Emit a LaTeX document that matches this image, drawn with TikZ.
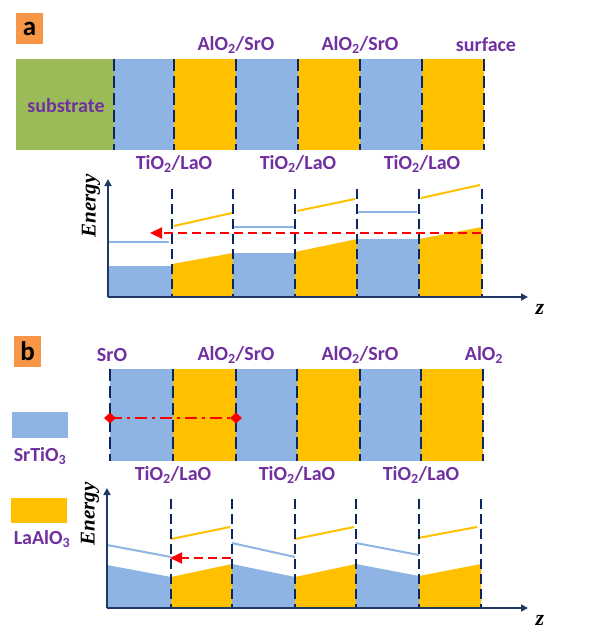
\documentclass[tikz,border=0pt]{standalone}
\usepackage{fontspec}
\setmainfont{Carlito}
\newfontfamily\tnr{Liberation Serif}
\usetikzlibrary{arrows.meta,shapes.geometric}
\definecolor{stoblue}{HTML}{8EB4E3}
\definecolor{laoyel}{HTML}{FFC000}
\definecolor{subgreen}{HTML}{9BBB59}
\definecolor{labor}{HTML}{F79646}
\definecolor{purp}{HTML}{7030A0}
\definecolor{navy}{HTML}{0B2660}
\definecolor{axnavy}{HTML}{1F3864}
\definecolor{cbblue}{HTML}{8EB4E3}
\tikzset{
  lbl/.style={font=\fontsize{20}{22}\selectfont\bfseries, text=purp, inner sep=0pt},
  panellbl/.style={fill=labor, minimum width=27pt, minimum height=31pt, inner sep=0pt,
    font=\fontsize{27}{28}\selectfont\bfseries, text=black},
  ifc/.style={draw=navy, line width=2.4pt, dash pattern=on 12pt off 5pt},
  eifc/.style={draw=navy, line width=2.4pt, dash pattern=on 10pt off 5pt},
  axis/.style={draw=axnavy, line width=2pt, -{Triangle[length=7pt,width=7pt]}},
  bline/.style={draw=cbblue, line width=2pt},
  yline/.style={draw=laoyel, line width=2pt},
  redarr/.style={draw=red, line width=2pt, dash pattern=on 9pt off 5pt, -{Triangle[length=12pt,width=11pt]}},
  reddd/.style={draw=red, line width=2pt, dash pattern=on 12pt off 5pt on 3pt off 5pt},
  rdiam/.style={diamond, fill=red, inner sep=0pt, minimum width=12pt, minimum height=11pt},
  elbl/.style={font=\tnr\fontsize{21}{22}\selectfont\bfseries\itshape, inner sep=0pt, rotate=90},
  zlbl/.style={font=\tnr\fontsize{22}{22}\selectfont\bfseries\itshape, inner sep=0pt},
}
\begin{document}
\begin{tikzpicture}[x=1pt,y=-1pt]
\useasboundingbox (0,0) rectangle (599,634);
% ===================== panel a =====================
\node[panellbl] (la) at (29.5,28.5) {a};
% layer bar
\fill[subgreen] (16,59) rectangle (114,150);
\fill[stoblue] (114,59) rectangle (174,150);
\fill[laoyel] (174,59) rectangle (236,150);
\fill[stoblue] (236,59) rectangle (298,150);
\fill[laoyel] (298,59) rectangle (360,150);
\fill[stoblue] (360,59) rectangle (422,150);
\fill[laoyel] (422,59) rectangle (484,150);
\foreach \x in {114,174,236,298,360,422,484} \draw[ifc] (\x,59) -- (\x,150);
\node[lbl] (sub) at (66,106) {substrate};
\node[lbl] (a1) at (236,45) {AlO\textsubscript{2}/SrO};
\node[lbl] (a2) at (360,45) {AlO\textsubscript{2}/SrO};
\node[lbl] (a3) at (486,45) {surface};
\node[lbl] (at1) at (174,164) {TiO\textsubscript{2}/LaO};
\node[lbl] (at2) at (298,164) {TiO\textsubscript{2}/LaO};
\node[lbl] (at3) at (422,164) {TiO\textsubscript{2}/LaO};
% energy diagram a
\fill[stoblue] (108,297) -- (108,266) -- (172,266) -- (172,297) -- cycle;
\fill[laoyel] (172,297) -- (172,264) -- (233,253) -- (233,297) -- cycle;
\fill[stoblue] (233,297) -- (233,253) -- (295,253) -- (295,297) -- cycle;
\fill[laoyel] (295,297) -- (295,252) -- (357,239) -- (357,297) -- cycle;
\fill[stoblue] (357,297) -- (357,239) -- (419,239) -- (419,297) -- cycle;
\fill[laoyel] (419,297) -- (419,239) -- (482,227) -- (482,297) -- cycle;
\draw[bline] (108,242) -- (169,242);
\draw[bline] (233,227) -- (294,227);
\draw[bline] (357,212) -- (417,212);
\draw[yline] (174,226) -- (232,213);
\draw[yline] (297,211) -- (355,199);
\draw[yline] (421,198) -- (480,185);
\foreach \x in {172,233,295,357,419,482} \draw[eifc] (\x,189) -- (\x,297);
\coordinate (ea0) at (108,297);
\coordinate (eay) at (108,179);
\coordinate (eax) at (528,297);
\draw[axis] (ea0) -- (eay);
\draw[axis] (ea0) -- (eax);
\coordinate (ra1) at (481,233);
\coordinate (ra2) at (150,233);
\draw[redarr] (ra1) -- (ra2);
\node[elbl] (ena) at (91,206) {Energy};
\node[zlbl] (za) at (540,309) {z};
% ===================== panel b =====================
\node[panellbl] (lb) at (27.5,351.5) {b};
\fill[stoblue] (110,369) rectangle (173,461);
\fill[laoyel] (173,369) rectangle (236,461);
\fill[stoblue] (236,369) rectangle (297,461);
\fill[laoyel] (297,369) rectangle (360,461);
\fill[stoblue] (360,369) rectangle (421,461);
\fill[laoyel] (421,369) rectangle (483,461);
\foreach \x in {110,173,236,297,360,421,483} \draw[ifc] (\x,369) -- (\x,461);
\node[lbl] (b0) at (112,355) {SrO};
\node[lbl] (b1) at (236,355) {AlO\textsubscript{2}/SrO};
\node[lbl] (b2) at (360,355) {AlO\textsubscript{2}/SrO};
\node[lbl] (b3) at (484,355) {AlO\textsubscript{2}};
\node[lbl] (bt1) at (173,475) {TiO\textsubscript{2}/LaO};
\node[lbl] (bt2) at (297,475) {TiO\textsubscript{2}/LaO};
\node[lbl] (bt3) at (421,475) {TiO\textsubscript{2}/LaO};
% dash-dot period marker
\node[rdiam] (d1) at (110,418) {};
\node[rdiam] (d2) at (236,418) {};
\draw[reddd] (d1.center) -- (d2.center);
% legend
\fill[stoblue] (12,412) rectangle (68,438);
\node[lbl] (lg1) at (40,456) {SrTiO\textsubscript{3}};
\fill[laoyel] (11,498) rectangle (67,523);
\node[lbl] (lg2) at (42,539) {LaAlO\textsubscript{3}};
% energy diagram b
\fill[stoblue] (107,608) -- (107,565) -- (171,577) -- (171,608) -- cycle;
\fill[laoyel] (171,608) -- (171,577) -- (232,564) -- (232,608) -- cycle;
\fill[stoblue] (232,608) -- (232,564) -- (295,577) -- (295,608) -- cycle;
\fill[laoyel] (295,608) -- (295,577) -- (356,564) -- (356,608) -- cycle;
\fill[stoblue] (356,608) -- (356,564) -- (419,576) -- (419,608) -- cycle;
\fill[laoyel] (419,608) -- (419,576) -- (481,564) -- (481,608) -- cycle;
\draw[bline] (107,545) -- (171,557);
\draw[bline] (232,543) -- (295,557);
\draw[bline] (356,543) -- (419,555);
\draw[yline] (171,539) -- (230,527);
\draw[yline] (295,539) -- (354,527);
\draw[yline] (418,538) -- (477,527);
\foreach \x in {171,232,295,356,419,481} \draw[eifc] (\x,499) -- (\x,608);
\coordinate (eb0) at (107,608);
\coordinate (eby) at (107,488);
\coordinate (ebx) at (528,608);
\draw[axis] (eb0) -- (eby);
\draw[axis] (eb0) -- (ebx);
\coordinate (rb1) at (231,558);
\coordinate (rb2) at (170,558);
\draw[redarr] (rb1) -- (rb2);
\node[elbl] (enb) at (90,514) {Energy};
\node[zlbl] (zb) at (540,620) {z};
\end{tikzpicture}
\end{document}
